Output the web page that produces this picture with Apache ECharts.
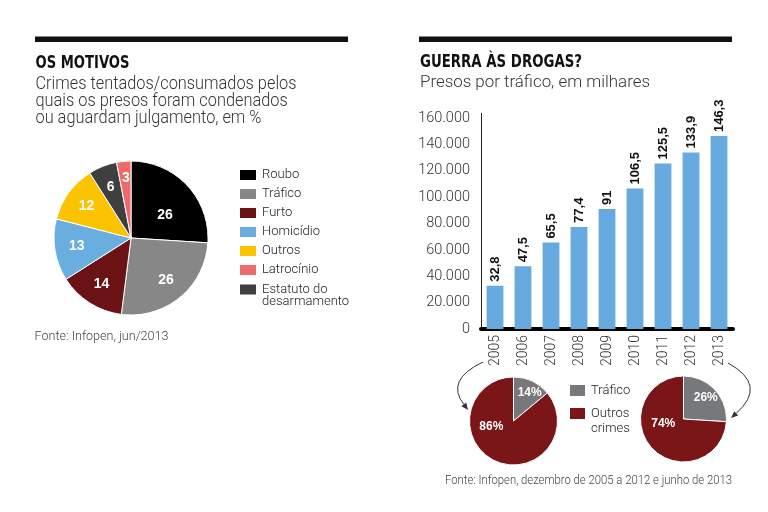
<!DOCTYPE html>
<html><head><meta charset="utf-8">
<script src="https://cdn.jsdelivr.net/npm/echarts@6/dist/echarts.min.js"></script>
<style>html,body{margin:0;padding:0;background:#fff}#c{width:768px;height:512px}</style>
</head><body><div id="c"></div>
<script>
// ---- data ----
const motivosNomes = ['Roubo', 'Tráfico', 'Furto', 'Homicídio', 'Outros', 'Estatuto do\ndesarmamento', 'Latrocínio'];
const motivosValores = [26, 26, 14, 13, 12, 6, 3];
const motivosCores = ['#000000', '#878787', '#6b1214', '#6aaee0', '#fcc300', '#3f3f3f', '#ee6b6b'];
const legendaOrdem = ['Roubo', 'Tráfico', 'Furto', 'Homicídio', 'Outros', 'Latrocínio'];

const anos = ['2005', '2006', '2007', '2008', '2009', '2010', '2011', '2012', '2013'];
const presosTrafico = [32800, 47500, 65500, 77400, 91000, 106500, 125500, 133900, 146300];

const partNomes = ['Tráfico', 'Outros\ncrimes'];
const part2005 = [14, 86];
const part2013 = [26, 74];
const partCores = ['#77787b', '#7a1518'];

// ---- helpers ----
const mctx = document.createElement('canvas').getContext('2d');
function scaleFor(text, font, target) { mctx.font = font; return target / mctx.measureText(text).width; }
function txt(text, x, y, font, fill, sx) {
  return { type: 'text', x: x, y: y, scaleX: sx || 1, silent: true,
    style: { text: text, x: 0, y: 0, font: font, fill: fill, verticalAlign: 'middle', align: 'left' } };
}
const fTitle = 'bold 18.5px "Liberation Sans Narrow", "DejaVu Sans Condensed", sans-serif';
const fSubL = '300 18px Roboto, sans-serif';
const fSubR = '300 16px Roboto, sans-serif';
const fSrcL = '300 13px Roboto, sans-serif';
const fSrcR = '300 12px Roboto, sans-serif';
const sxSubL = scaleFor('Crimes tentados/consumados pelos', fSubL, 261);

function fmtMil(v) { return String(v).replace(/\B(?=(\d{3})+(?!\d))/g, '.'); }
// label nudges (styling only)
const nudgeBig = [[-6, 15], [0, 0], [0, 0], [0, 0], [0, 0], [0, 0], [0, -5]];
const nudge2005 = [[3, 0], [-9, -22]];
const nudge2013 = [[0, 0], [2, -16]];
function layoutBy(n) { return p => ({ dx: n[p.dataIndex][0], dy: n[p.dataIndex][1] }); }

const legTxt = { fontFamily: 'Roboto', fontWeight: 300, fontSize: 13, color: '#222' };

const chart = echarts.init(document.getElementById('c'));
chart.setOption({
  animation: false,
  backgroundColor: '#fff',
  graphic: [
    { type: 'rect', silent: true, shape: { x: 35, y: 36.5, width: 313, height: 5.5 }, style: { fill: '#111' } },
    { type: 'rect', silent: true, shape: { x: 419, y: 36.5, width: 313, height: 5.5 }, style: { fill: '#111' } },
    { type: 'line', silent: true, shape: { x1: 481.5, y1: 113, x2: 481.5, y2: 120 }, style: { stroke: '#222', lineWidth: 1 } },
    txt('OS MOTIVOS', 35.5, 63, fTitle, '#111', scaleFor('OS MOTIVOS', fTitle, 94)),
    txt('Crimes tentados/consumados pelos', 35.5, 84, fSubL, '#333', sxSubL),
    txt('quais os presos foram condenados', 35.5, 101, fSubL, '#333', sxSubL),
    txt('ou aguardam julgamento, em %', 35.5, 118.5, fSubL, '#333', sxSubL),
    txt('Fonte: Infopen, jun/2013', 34.5, 336.5, fSrcL, '#444', scaleFor('Fonte: Infopen, jun/2013', fSrcL, 134)),
    txt('GUERRA ÀS DROGAS?', 420, 62, fTitle, '#111', scaleFor('GUERRA ÀS DROGAS?', fTitle, 162)),
    txt('Presos por tráfico, em milhares', 420, 83, fSubR, '#333', scaleFor('Presos por tráfico, em milhares', fSubR, 230)),
    txt('Fonte: Infopen, dezembro de 2005 a 2012 e junho de 2013', 445, 480.5, fSrcR, '#444',
        scaleFor('Fonte: Infopen, dezembro de 2005 a 2012 e junho de 2013', fSrcR, 287)),
    { type: 'bezierCurve', silent: true, shape: { x1: 483, y1: 362, cpx1: 445, cpy1: 380, x2: 463.8, y2: 404.4 },
      style: { stroke: '#333', lineWidth: 1, fill: null } },
    { type: 'polygon', silent: true, shape: { points: [[468, 410], [466.2, 402.6], [461.4, 406.2]] }, style: { fill: '#333' } },
    { type: 'bezierCurve', silent: true, shape: { x1: 728, y1: 363, cpx1: 768, cpy1: 385, x2: 736.2, y2: 413.4 },
      style: { stroke: '#333', lineWidth: 1, fill: null } },
    { type: 'polygon', silent: true, shape: { points: [[731, 418], [738.2, 415.6], [734.2, 411.2]] }, style: { fill: '#333' } }
  ],
  legend: [
    { orient: 'vertical', left: 238, top: 168, padding: 0, itemWidth: 18, itemHeight: 12, itemGap: 5, icon: 'rect',
      selectedMode: false, data: legendaOrdem,
      textStyle: Object.assign({ lineHeight: 14 }, legTxt) },
    { orient: 'vertical', left: 238, top: 271, padding: 0, itemWidth: 18, itemHeight: 12, icon: 'rect',
      selectedMode: false, data: [motivosNomes[5]], formatter: n => '\n' + n,
      textStyle: Object.assign({ lineHeight: 12 }, legTxt) },
    { orient: 'vertical', left: 568, top: 383, padding: 0, itemWidth: 17, itemHeight: 13, icon: 'rect',
      selectedMode: false, data: [{ name: partNomes[0], itemStyle: { color: partCores[0] } }],
      textStyle: Object.assign({ lineHeight: 15 }, legTxt) },
    { orient: 'vertical', left: 568, top: 391, padding: 0, itemWidth: 17, itemHeight: 13, icon: 'rect',
      selectedMode: false, data: [partNomes[1]], formatter: n => '\n' + n,
      textStyle: Object.assign({ lineHeight: 15 }, legTxt) }
  ],
  grid: { left: 481, right: 35, top: 118, bottom: 183, containLabel: false },
  xAxis: {
    type: 'category', data: anos,
    axisLine: { show: true, lineStyle: { color: '#000', width: 4 } },
    axisTick: { show: false },
    axisLabel: { rotate: 90, margin: 6, fontFamily: 'Roboto', fontWeight: 300, fontSize: 14, color: '#333' }
  },
  yAxis: {
    type: 'value', min: 0, max: 160000, interval: 20000,
    axisLine: { show: true, lineStyle: { color: '#222', width: 1 } },
    axisTick: { show: false }, splitLine: { show: false },
    axisLabel: { margin: 11, fontFamily: 'Roboto', fontWeight: 300, fontSize: 14.5, color: '#333', formatter: fmtMil }
  },
  series: [
    { type: 'pie', name: 'motivos', center: [131, 238], radius: [0, 77], startAngle: 90, clockwise: true, silent: true,
      data: motivosNomes.map((n, i) => ({ name: n, value: motivosValores[i], itemStyle: { color: motivosCores[i] } })),
      itemStyle: { borderColor: '#fff', borderWidth: 1 }, label: { show: false }, labelLine: { show: false } },
    { type: 'pie', name: 'motivosRotulos', center: [131, 238], radius: [27, 77], startAngle: 90, clockwise: true, silent: true,
      data: motivosNomes.map((n, i) => ({ name: n, value: motivosValores[i] })),
      itemStyle: { color: 'rgba(0,0,0,0)', borderWidth: 0 },
      label: { show: true, position: 'inside', formatter: '{c}', color: '#fff', fontFamily: 'Liberation Sans', fontWeight: 'bold', fontSize: 14 },
      labelLine: { show: false }, labelLayout: layoutBy(nudgeBig) },
    { type: 'bar', name: 'Presos por tráfico', data: presosTrafico, barWidth: '60%',
      itemStyle: { color: '#66aadf' },
      label: { show: true, position: 'top', rotate: 90, align: 'left', verticalAlign: 'middle', distance: 4,
        fontFamily: 'Liberation Sans', fontWeight: 'bold', fontSize: 13, color: '#111',
        formatter: p => String(p.value / 1000).replace('.', ',') } },
    { type: 'pie', name: '2005', center: [513.5, 421], radius: [0, 44], startAngle: 90, clockwise: true, silent: true,
      data: partNomes.map((n, i) => ({ name: n, value: part2005[i], itemStyle: { color: partCores[i] } })),
      itemStyle: { borderColor: '#fff', borderWidth: 1 }, label: { show: false }, labelLine: { show: false } },
    { type: 'pie', name: '2013', center: [683.5, 419], radius: [0, 43], startAngle: 90, clockwise: true, silent: true,
      data: partNomes.map((n, i) => ({ name: n, value: part2013[i], itemStyle: { color: partCores[i] } })),
      itemStyle: { borderColor: '#fff', borderWidth: 1 }, label: { show: false }, labelLine: { show: false } },
    { type: 'pie', name: '2005r', center: [513.5, 421], radius: [12, 44], startAngle: 90, clockwise: true, silent: true,
      data: partNomes.map((n, i) => ({ name: n, value: part2005[i] })),
      itemStyle: { color: 'rgba(0,0,0,0)', borderWidth: 0 },
      label: { show: true, position: 'inside', formatter: '{c}%', color: '#fff', fontFamily: 'Liberation Sans', fontWeight: 'bold', fontSize: 12 },
      labelLine: { show: false }, labelLayout: layoutBy(nudge2005) },
    { type: 'pie', name: '2013r', center: [683.5, 419], radius: [12, 43], startAngle: 90, clockwise: true, silent: true,
      data: partNomes.map((n, i) => ({ name: n, value: part2013[i] })),
      itemStyle: { color: 'rgba(0,0,0,0)', borderWidth: 0 },
      label: { show: true, position: 'inside', formatter: '{c}%', color: '#fff', fontFamily: 'Liberation Sans', fontWeight: 'bold', fontSize: 12 },
      labelLine: { show: false }, labelLayout: layoutBy(nudge2013) }
  ]
});
</script>
</body></html>
